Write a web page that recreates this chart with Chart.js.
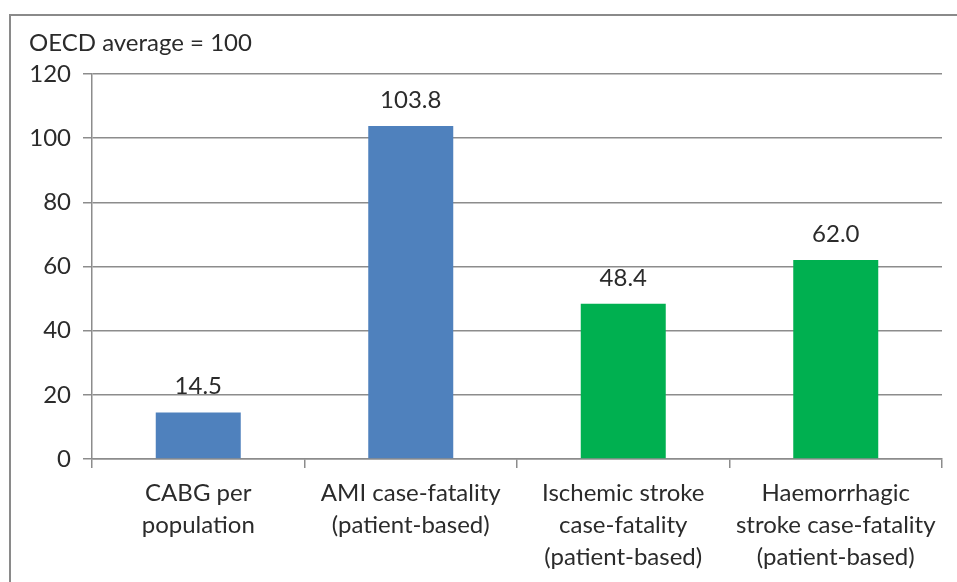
<!DOCTYPE html>
<html>
<head>
<meta charset="utf-8">
<script src="https://cdn.jsdelivr.net/npm/chart.js@4.4.0/dist/chart.umd.min.js"></script>
<style>
  html, body { margin: 0; padding: 0; background: #ffffff; }
  #wrap { width: 957px; height: 582px; position: relative; }
</style>
</head>
<body>
<div id="wrap"><canvas id="chart" width="957" height="582"></canvas></div>
<script>
// Indicators relative to the OECD average (= 100)
const categories = [
  ["CABG per", "population"],
  ["AMI case-fatality", "(patient-based)"],
  ["Ischemic stroke", "case-fatality", "(patient-based)"],
  ["Haemorrhagic", "stroke case-fatality", "(patient-based)"]
];
const values = [14.5, 103.8, 48.4, 62.0];
const barColors = ["#4F81BD", "#4F81BD", "#00B050", "#00B050"];
const yTicks = [0, 20, 40, 60, 80, 100, 120];
const noteText = "OECD average = 100";

const FONT = "Lato, 'Open Sans', sans-serif";
const TEXT = "#2b2b2b";
const LINE = "#8c8c8c";

// Outer frame and the note above the axis
const framePlugin = {
  id: "frame",
  beforeDraw(chart) {
    const ctx = chart.ctx;
    ctx.save();
    ctx.fillStyle = "#ffffff";
    ctx.fillRect(0, 0, chart.width, chart.height);
    ctx.strokeStyle = "#8a8a8a";
    ctx.lineWidth = 2;
    ctx.strokeRect(10, 15, chart.width + 20, chart.height + 20);
    ctx.fillStyle = TEXT;
    ctx.font = "24px " + FONT;
    ctx.textBaseline = "alphabetic";
    ctx.textAlign = "left";
    ctx.fillText(noteText, 29, 51);
    ctx.restore();
  }
};

// Value labels above each bar
const valueLabels = {
  id: "valueLabels",
  afterDatasetsDraw(chart) {
    const ctx = chart.ctx;
    const meta = chart.getDatasetMeta(0);
    ctx.save();
    ctx.fillStyle = TEXT;
    ctx.font = "24px " + FONT;
    ctx.textAlign = "center";
    ctx.textBaseline = "alphabetic";
    meta.data.forEach((bar, i) => {
      ctx.fillText(values[i].toFixed(1), bar.x, bar.y - 18);
    });
    ctx.restore();
  }
};

new Chart(document.getElementById("chart"), {
  type: "bar",
  data: {
    labels: categories,
    datasets: [{
      data: values,
      backgroundColor: barColors,
      borderWidth: 0,
      categoryPercentage: 0.4,
      barPercentage: 1.0
    }]
  },
  options: {
    responsive: false,
    animation: false,
    layout: { padding: { left: 30, right: 15, top: 74, bottom: 0 } },
    plugins: {
      legend: { display: false },
      tooltip: { enabled: false }
    },
    scales: {
      x: {
        grid: {
          display: true,
          drawOnChartArea: false,
          drawTicks: true,
          tickLength: 9,
          color: LINE,
          lineWidth: 1.5,
          offset: true
        },
        border: { display: true, color: LINE, width: 1.5 },
        ticks: {
          color: TEXT,
          font: { family: FONT, size: 24, lineHeight: 1.333 },
          padding: 9,
          maxRotation: 0,
          autoSkip: false
        },
        afterFit(scale) { scale.height = 123; }
      },
      y: {
        min: 0,
        max: 120,
        afterBuildTicks(scale) { scale.ticks = yTicks.map(v => ({ value: v })); },
        grid: {
          color: LINE,
          lineWidth: 1.5,
          tickLength: 9,
          drawTicks: true
        },
        border: { display: true, color: LINE, width: 1.5 },
        ticks: {
          color: TEXT,
          font: { family: FONT, size: 24 },
          padding: 12
        },
        afterFit(scale) { scale.width = 62; }
      }
    }
  },
  plugins: [framePlugin, valueLabels]
});
</script>
</body>
</html>
